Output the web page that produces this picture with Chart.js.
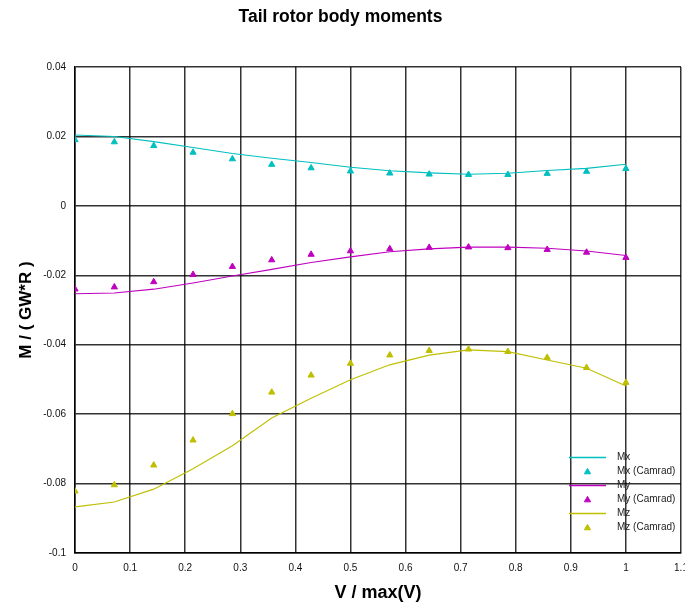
<!DOCTYPE html>
<html>
<head>
<meta charset="utf-8">
<title>Tail rotor body moments</title>
<script src="https://cdn.jsdelivr.net/npm/chart.js@4/dist/chart.umd.min.js"></script>
<style>
  html, body { margin: 0; padding: 0; background: #fff; overflow: hidden; }
  #wrap { width: 700px; height: 607px; }
</style>
</head>
<body>
<div id="wrap"><canvas id="c" width="700" height="607"></canvas></div>
<script>
// Normalised forward speed V / max(V)
const speed = [0, 0.0714, 0.1429, 0.2143, 0.2857, 0.3571, 0.4286, 0.5,
               0.5714, 0.6429, 0.7143, 0.7857, 0.8571, 0.9286, 1.0];

// Tail rotor body moments, own model (lines)
const mx = [0.0204, 0.0200, 0.0185, 0.0168, 0.0151, 0.0137, 0.0125, 0.0111,
            0.0101, 0.0095, 0.0091, 0.0094, 0.0102, 0.0108, 0.0120];
const my = [-0.0253, -0.0251, -0.0240, -0.0222, -0.0202, -0.0183, -0.0163, -0.0147,
            -0.0132, -0.0124, -0.0119, -0.0119, -0.0122, -0.0130, -0.0143];
const mz = [-0.0867, -0.0853, -0.0816, -0.0757, -0.0691, -0.0611, -0.0554, -0.0501,
            -0.0458, -0.0430, -0.0415, -0.0420, -0.0444, -0.0468, -0.0519];

// Same moments from Camrad (triangles)
const mxCamrad = [0.0190, 0.0184, 0.0173, 0.0154, 0.0135, 0.0119, 0.0109, 0.0100,
                  0.0094, 0.0091, 0.0090, 0.0090, 0.0093, 0.0099, 0.0107];
const myCamrad = [-0.0240, -0.0234, -0.0219, -0.0198, -0.0175, -0.0156, -0.0140, -0.0130,
                  -0.0124, -0.0120, -0.0119, -0.0121, -0.0126, -0.0134, -0.0149];
const mzCamrad = [-0.0822, -0.0804, -0.0747, -0.0675, -0.0599, -0.0537, -0.0488, -0.0454,
                  -0.0430, -0.0417, -0.0413, -0.0420, -0.0437, -0.0466, -0.0509];

const seriesNames = ['Mx', 'Mx (Camrad)', 'My', 'My (Camrad)', 'Mz', 'Mz (Camrad)'];
const cyan = '#00bfbf', magenta = '#bf00bf', olive = '#bfbf00';
const markRadius = 3.6;

const pts = vals => vals.map((v, i) => ({ x: speed[i], y: v }));

function lineSet(label, vals, color) {
  return { label, data: pts(vals), showLine: true, borderColor: color,
           backgroundColor: color, borderWidth: 1.1, pointRadius: 0, tension: 0 };
}
function markSet(label, vals, color) {
  return { label, data: pts(vals), showLine: false, borderColor: color,
           backgroundColor: color, borderWidth: 1, pointStyle: 'triangle',
           pointRadius: markRadius, pointHoverRadius: markRadius };
}

// Key drawn inside the plot frame, bottom right
const innerLegend = {
  id: 'innerLegend',
  afterDraw(chart) {
    const { ctx, chartArea: a } = chart;
    ctx.save();
    ctx.font = '10px "Liberation Sans", Arial, sans-serif';
    ctx.textBaseline = 'middle';
    ctx.textAlign = 'left';
    chart.data.datasets.forEach((ds, i) => {
      const y = a.bottom - 96 + i * 14;
      const x0 = a.right - 112, x1 = a.right - 75;
      if (ds.showLine) {
        ctx.strokeStyle = ds.borderColor;
        ctx.lineWidth = 1.3;
        ctx.beginPath();
        ctx.moveTo(x0, y + 0.5);
        ctx.lineTo(x1, y + 0.5);
        ctx.stroke();
      } else {
        ctx.fillStyle = ds.backgroundColor;
        ctx.strokeStyle = ds.borderColor;
        ctx.lineWidth = 1;
        const r = markRadius;
        const cx = (x0 + x1) / 2, cy = y + 1;
        ctx.beginPath();
        ctx.moveTo(cx, cy - r);
        ctx.lineTo(cx + r * 0.866, cy + r / 2);
        ctx.lineTo(cx - r * 0.866, cy + r / 2);
        ctx.closePath();
        ctx.fill();
        ctx.stroke();
      }
      ctx.fillStyle = '#222';
      ctx.fillText(ds.label, a.right - 64, y);
    });
    ctx.restore();
  }
};

const gridColor = 'rgba(0,0,0,0.8)';
const tickFont = { family: '"Liberation Sans", Arial, sans-serif', size: 10 };

new Chart(document.getElementById('c'), {
  type: 'scatter',
  data: {
    datasets: [
      lineSet(seriesNames[0], mx, cyan),
      markSet(seriesNames[1], mxCamrad, cyan),
      lineSet(seriesNames[2], my, magenta),
      markSet(seriesNames[3], myCamrad, magenta),
      lineSet(seriesNames[4], mz, olive),
      markSet(seriesNames[5], mzCamrad, olive)
    ]
  },
  options: {
    responsive: false,
    animation: false,
    layout: { padding: { left: 0, right: 19, top: 0, bottom: 0 } },
    plugins: {
      legend: { display: false },
      tooltip: { enabled: false },
      title: {
        display: true,
        text: 'Tail rotor body moments',
        color: '#000',
        font: { family: '"Liberation Sans", Arial, sans-serif', size: 17.5, weight: 'bold' },
        padding: { top: 7, bottom: 39 }
      }
    },
    scales: {
      x: {
        type: 'linear',
        min: 0, max: 1.1,
        afterFit(scale) { scale.height = 54; },
        ticks: {
          stepSize: 0.1,
          padding: 9,
          color: '#111',
          font: tickFont,
          maxRotation: 0,
          callback: v => String(Math.round(v * 10) / 10)
        },
        grid: { color: gridColor, lineWidth: 1.5, drawTicks: false },
        border: { display: true, color: '#000', width: 1.5 },
        title: {
          display: true,
          text: 'V / max(V)',
          color: '#000',
          font: { family: '"Liberation Sans", Arial, sans-serif', size: 18, weight: 'bold' },
          padding: { top: 9, bottom: 3 }
        }
      },
      y: {
        type: 'linear',
        min: -0.1, max: 0.04,
        afterFit(scale) { scale.width = 75; },
        ticks: {
          stepSize: 0.02,
          padding: 9,
          color: '#111',
          font: tickFont,
          callback: v => String(Number(v.toFixed(2)))
        },
        grid: { color: gridColor, lineWidth: 1.5, drawTicks: false },
        border: { display: true, color: '#000', width: 1.5 },
        title: {
          display: true,
          text: 'M / ( GW*R )',
          color: '#000',
          font: { family: '"Liberation Sans", Arial, sans-serif', size: 17, weight: 'bold' },
          padding: { top: 16, bottom: 0 }
        }
      }
    }
  },
  plugins: [innerLegend]
});
</script>
</body>
</html>
